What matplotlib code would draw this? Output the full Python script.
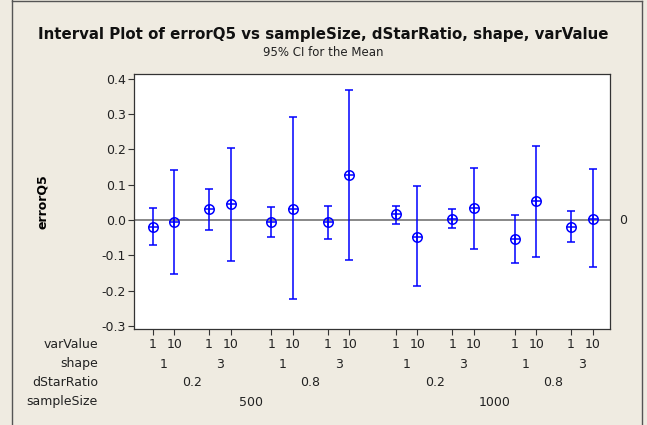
import matplotlib.pyplot as plt
from matplotlib.transforms import blended_transform_factory

# factor levels (outer -> inner)
sample_size = ["500", "1000"]
dstar_ratio = ["0.2", "0.8"]
shape = ["1", "3"]
var_value = ["1", "10"]

# means and 95% CI bounds, in order of sampleSize, dStarRatio, shape, varValue
means = [-0.019, -0.007, 0.031, 0.044, -0.007, 0.031, -0.007, 0.128,
         0.016, -0.047, 0.003, 0.034, -0.054, 0.053, -0.019, 0.003]
upper = [0.035, 0.142, 0.089, 0.204, 0.038, 0.291, 0.041, 0.370,
         0.041, 0.097, 0.032, 0.148, 0.015, 0.210, 0.026, 0.145]
lower = [-0.072, -0.153, -0.028, -0.115, -0.049, -0.225, -0.053, -0.113,
         -0.012, -0.188, -0.022, -0.081, -0.122, -0.106, -0.062, -0.134]

BG = "#efebe1"
BLUE = "#0000ff"

plt.rcParams["font.family"] = ["DejaVu Sans"]

fig = plt.figure(figsize=(6.47, 4.25), dpi=100, facecolor=BG)
ax = fig.add_axes([134 / 647, 1 - 329 / 425, 476 / 647, 255 / 425])
ax.set_facecolor("white")

# group spacing, Minitab style
gaps = {"var": 1.0, "shape": 2.617, "dstar": 5.513, "ss": 11.29}
xs, keys = [], []
for n in range(len(sample_size)):
    for d in range(len(dstar_ratio)):
        for s in range(len(shape)):
            for v in range(len(var_value)):
                xs.append(v * gaps["var"] + s * gaps["shape"] + d * gaps["dstar"] + n * gaps["ss"])
                keys.append((n, d, s, v))

yerr = [[m - lo for m, lo in zip(means, lower)], [up - m for m, up in zip(means, upper)]]

ax.axhline(0, color="#7f7f7f", lw=1.3, zorder=1)
ax.errorbar(xs, means, yerr=yerr, fmt="none", ecolor=BLUE, elinewidth=1.1,
            capsize=2.6, capthick=1.1, zorder=2)
ax.plot(xs, means, "o", ms=6.8, mfc="none", mec=BLUE, mew=1.1, zorder=3)
ax.plot(xs, means, "+", ms=6.8, mec=BLUE, mew=1.1, zorder=3)

ax.set_xlim(-0.87, 21.23)
ax.set_ylim(-0.309, 0.414)
ax.set_yticks([0.4, 0.3, 0.2, 0.1, 0.0, -0.1, -0.2, -0.3])
ax.set_yticklabels(["0.4", "0.3", "0.2", "0.1", "0.0", "-0.1", "-0.2", "-0.3"])
ax.tick_params(axis="y", labelsize=9, length=4, width=0.8, color="#333333", pad=2, labelcolor="#222222")
ax.set_xticks(xs)
ax.set_xticklabels([])
ax.tick_params(axis="x", length=4, width=0.8, color="#333333")
for sp in ax.spines.values():
    sp.set_color("#333333")
    sp.set_linewidth(0.9)

ax.text(1.02, 0, "0", transform=blended_transform_factory(ax.transAxes, ax.transData),
        fontsize=9, va="center", ha="left", color="#222222")

ax.set_ylabel("errorQ5", fontsize=9, fontweight="bold", labelpad=38)

# hierarchical category labels
tr = blended_transform_factory(ax.transData, fig.transFigure)
rows_y = [1 - 345 / 425, 1 - 364 / 425, 1 - 383 / 425, 1 - 402 / 425]
row_names = ["varValue", "shape", "dStarRatio", "sampleSize"]
for name, y in zip(row_names, rows_y):
    fig.text(98 / 647, y, name, ha="right", va="center", fontsize=9, color="#222222")

for x, (n, d, s, v) in zip(xs, keys):
    ax.text(x, rows_y[0], var_value[v], transform=tr, ha="center", va="center",
            fontsize=9, color="#222222")


def group_centers(level):
    groups = {}
    for x, k in zip(xs, keys):
        groups.setdefault(k[:level], []).append(x)
    return groups


for level, labels, y in [(3, shape, rows_y[1]), (2, dstar_ratio, rows_y[2]), (1, sample_size, rows_y[3])]:
    for k, gx in group_centers(level).items():
        ax.text((min(gx) + max(gx)) / 2, y, labels[k[-1]], transform=tr, ha="center",
                va="center", fontsize=9, color="#222222")

fig.text(0.5, 1 - 34 / 425, "Interval Plot of errorQ5 vs sampleSize, dStarRatio, shape, varValue",
         ha="center", va="center", fontsize=10.8, fontweight="bold", color="#111111")
fig.text(0.5, 1 - 52 / 425, "95% CI for the Mean", ha="center", va="center", fontsize=8.5, color="#222222")

# outer frame
for xy in [([12, 12], [0, 424]), ([12, 642], [1, 1]), ([642, 642], [1, 424])]:
    fig.add_artist(plt.Line2D([p / 647 for p in xy[0]], [1 - p / 425 for p in xy[1]],
                              color="#555555", lw=1.0, transform=fig.transFigure))

fig.savefig("out.png", dpi=100, facecolor=BG)
